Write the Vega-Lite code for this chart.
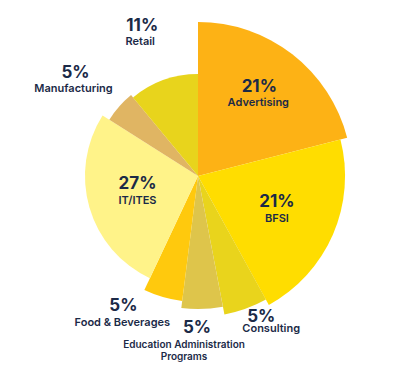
{
  "$schema": "https://vega.github.io/schema/vega-lite/v6.json",
  "width": 386,
  "height": 342,
  "autosize": "none",
  "padding": {"left": 5, "top": 5, "right": 4, "bottom": 45},
  "background": "white",
  "config": {"view": {"stroke": null}, "text": {"font": "Inter", "fill": "#1B2A47", "baseline": "middle", "align": "center"}},
  "data": {"values": [
    {"idx": 1, "category": "Advertising", "pct": "21%", "share": 21, "score": 100},
    {"idx": 2, "category": "BFSI", "pct": "21%", "share": 21, "score": 95.5},
    {"idx": 3, "category": "Consulting", "pct": "5%", "share": 5, "score": 91.6},
    {"idx": 4, "category": "Education Administration\nPrograms", "pct": "5%", "share": 5, "score": 86.4},
    {"idx": 5, "category": "Food & Beverages", "pct": "5%", "share": 5, "score": 81.8},
    {"idx": 6, "category": "IT/ITES", "pct": "27%", "share": 27, "score": 73.4},
    {"idx": 7, "category": "Manufacturing", "pct": "5%", "share": 5, "score": 68.2},
    {"idx": 8, "category": "Retail", "pct": "11%", "share": 11, "score": 66.2}
  ]},
  "encoding": {
    "theta": {"field": "share", "type": "quantitative", "stack": true, "scale": {"domain": [0, 100]}},
    "order": {"field": "idx", "type": "quantitative", "sort": "ascending"}
  },
  "layer": [
    {
      "transform": [{"stack": "share", "groupby": [], "sort": [{"field": "idx", "order": "ascending"}], "as": ["t0", "t1"]}],
      "mark": {"type": "arc", "stroke": null},
      "encoding": {
        "theta": {"field": "t0", "type": "quantitative", "stack": null, "scale": {"domain": [0, 100]}},
        "theta2": {"field": "t1"},
        "radius": {"field": "score", "type": "quantitative", "stack": null, "scale": {"type": "linear", "domain": [0, 100], "range": [0, 154], "zero": true}},
        "color": {"field": "category", "type": "nominal", "legend": null,
          "scale": {"domain": ["Advertising", "BFSI", "Consulting", "Education Administration\nPrograms", "Food & Beverages", "IT/ITES", "Manufacturing", "Retail"],
                    "range": ["#FDB215", "#FFDD00", "#E9D41C", "#DEC54B", "#FFC90D", "#FFF389", "#E0B563", "#E8D41C"]}}
      }
    },
    {"mark": {"type": "text", "fontSize": 17, "fontWeight": "bold", "dx": 0, "dy": -10},
     "encoding": {"radius": {"value": 100}, "text": {"condition": {"test": "datum.idx === 1", "field": "pct"}, "value": ""}}},
    {"mark": {"type": "text", "fontSize": 11, "fontWeight": 600, "dx": -1, "dy": 6},
     "encoding": {"radius": {"value": 100}, "text": {"condition": {"test": "datum.idx === 1", "field": "category"}, "value": ""}}},
    {"mark": {"type": "text", "fontSize": 17, "fontWeight": "bold", "dx": 0, "dy": -8},
     "encoding": {"radius": {"value": 86}, "text": {"condition": {"test": "datum.idx === 2", "field": "pct"}, "value": ""}}},
    {"mark": {"type": "text", "fontSize": 11, "fontWeight": 600, "dx": 0, "dy": 9},
     "encoding": {"radius": {"value": 86}, "text": {"condition": {"test": "datum.idx === 2", "field": "category"}, "value": ""}}},
    {"mark": {"type": "text", "fontSize": 17, "fontWeight": "bold", "dx": 9, "dy": -10},
     "encoding": {"radius": {"value": 160}, "text": {"condition": {"test": "datum.idx === 3", "field": "pct"}, "value": ""}}},
    {"mark": {"type": "text", "fontSize": 11, "fontWeight": 600, "dx": 19, "dy": 2},
     "encoding": {"radius": {"value": 160}, "text": {"condition": {"test": "datum.idx === 3", "field": "category"}, "value": ""}}},
    {"mark": {"type": "text", "fontSize": 17, "fontWeight": "bold", "dx": -6, "dy": -8},
     "encoding": {"radius": {"value": 160}, "text": {"condition": {"test": "datum.idx === 4", "field": "pct"}, "value": ""}}},
    {"mark": {"type": "text", "fontSize": 10, "fontWeight": 600, "dx": -19, "dy": 4, "lineBreak": "\n", "lineHeight": 12, "baseline": "top"},
     "encoding": {"radius": {"value": 160}, "text": {"condition": {"test": "datum.idx === 4", "field": "category"}, "value": ""}}},
    {"mark": {"type": "text", "fontSize": 17, "fontWeight": "bold", "dx": -30, "dy": -24},
     "encoding": {"radius": {"value": 160}, "text": {"condition": {"test": "datum.idx === 5", "field": "pct"}, "value": ""}}},
    {"mark": {"type": "text", "fontSize": 11, "fontWeight": 600, "dx": -31, "dy": -7},
     "encoding": {"radius": {"value": 160}, "text": {"condition": {"test": "datum.idx === 5", "field": "category"}, "value": ""}}},
    {"mark": {"type": "text", "fontSize": 17, "fontWeight": "bold", "dx": 0, "dy": -10},
     "encoding": {"radius": {"value": 63}, "text": {"condition": {"test": "datum.idx === 6", "field": "pct"}, "value": ""}}},
    {"mark": {"type": "text", "fontSize": 11, "fontWeight": 600, "dx": 0, "dy": 7},
     "encoding": {"radius": {"value": 63}, "text": {"condition": {"test": "datum.idx === 6", "field": "category"}, "value": ""}}},
    {"mark": {"type": "text", "fontSize": 17, "fontWeight": "bold", "dx": -10, "dy": -4},
     "encoding": {"radius": {"value": 150}, "text": {"condition": {"test": "datum.idx === 7", "field": "pct"}, "value": ""}}},
    {"mark": {"type": "text", "fontSize": 11, "fontWeight": 600, "dx": -12, "dy": 12},
     "encoding": {"radius": {"value": 150}, "text": {"condition": {"test": "datum.idx === 7", "field": "category"}, "value": ""}}},
    {"mark": {"type": "text", "fontSize": 17, "fontWeight": "bold", "dx": -5, "dy": -9},
     "encoding": {"radius": {"value": 150}, "text": {"condition": {"test": "datum.idx === 8", "field": "pct"}, "value": ""}}},
    {"mark": {"type": "text", "fontSize": 11, "fontWeight": 600, "dx": -7, "dy": 7},
     "encoding": {"radius": {"value": 150}, "text": {"condition": {"test": "datum.idx === 8", "field": "category"}, "value": ""}}}
  ]
}
